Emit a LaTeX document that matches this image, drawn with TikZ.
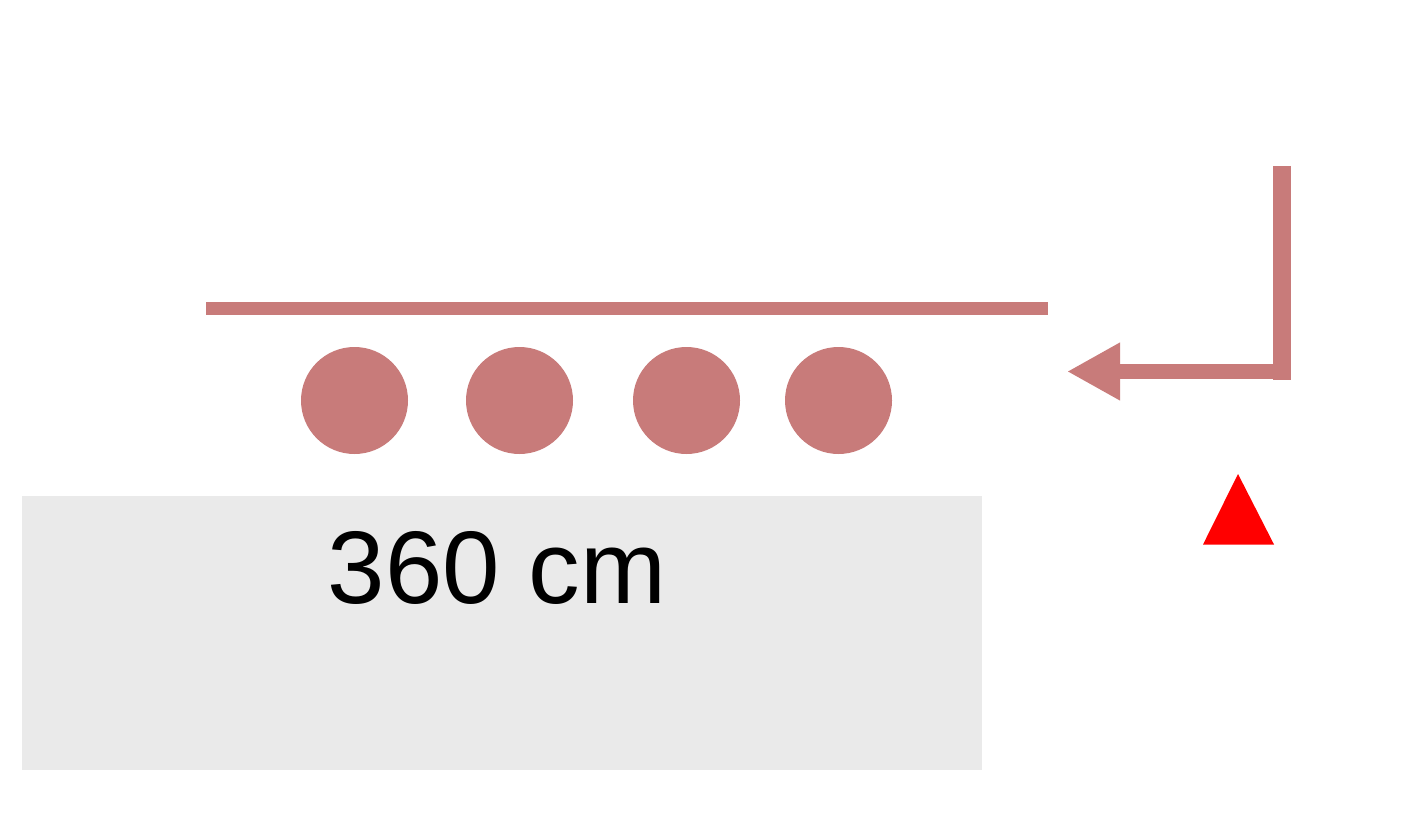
\documentclass[tikz,border=0pt]{standalone}
\usepackage{fontspec}
\setmainfont{Liberation Sans}
\usetikzlibrary{arrows.meta}
\definecolor{rose}{RGB}{200,123,122}
\definecolor{panel}{RGB}{234,234,234}
\begin{document}
\begin{tikzpicture}[x=0.5pt,y=-0.5pt,
  dot/.style={circle,fill=rose,inner sep=0pt,minimum size=53.5pt},
  bar/.style={draw=rose,line width=6.5pt},
]
\useasboundingbox (0,0) rectangle (1417,834);
% gray panel with label
\node[fill=panel,inner sep=0pt,minimum width=480pt,minimum height=137pt] (panel) at (502,633) {};
\node[anchor=base,inner sep=0pt,font=\fontsize{51.6pt}{60pt}\selectfont] (label) at (497,603) {360 cm};
% top bar
\coordinate (barL) at (206,308.5);
\coordinate (barR) at (1048,308.5);
\draw[bar] (barL) -- (barR);
% dots
\node[dot] (d1) at (354.5,400.5) {};
\node[dot] (d2) at (519.5,400.5) {};
\node[dot] (d3) at (686.5,400.5) {};
\node[dot] (d4) at (838.5,400.5) {};
% bent arrow
\coordinate (top) at (1282,166);
\coordinate (bottom) at (1282,380);
\coordinate (corner) at (1282,371.5);
\coordinate (tip) at (1067,371.5);
\draw[draw=rose,line width=9pt] (top) -- (bottom);
\draw[draw=rose,line width=7.5pt,-{Triangle[length=26.5pt,width=27pt]}] (corner) -- (tip);
% red triangle
\coordinate (apex) at (1238,474);
\coordinate (baseL) at (1203,544.5);
\coordinate (baseR) at (1274,544.5);
\fill[red] (apex) -- (baseR) -- (baseL) -- cycle;
\end{tikzpicture}
\end{document}
